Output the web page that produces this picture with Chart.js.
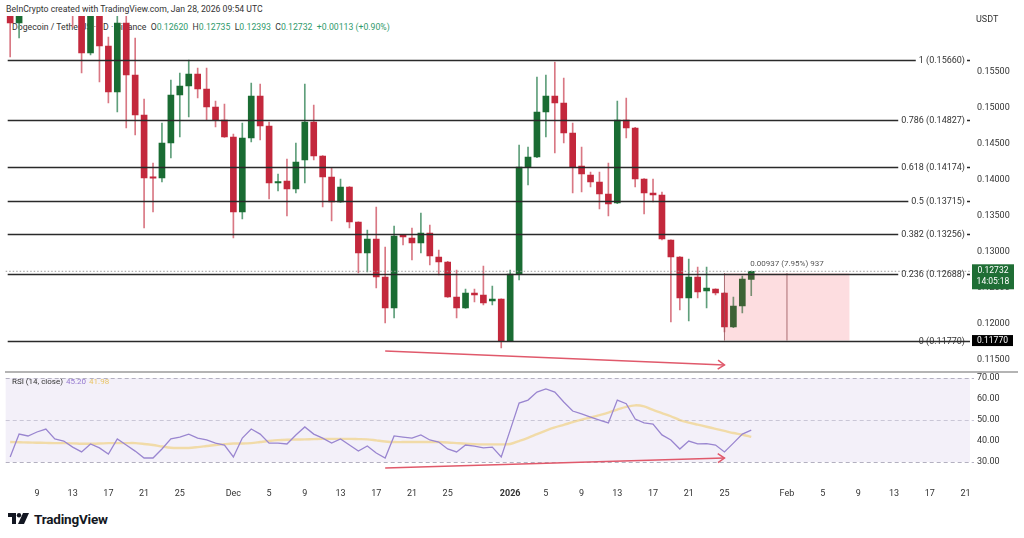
<!DOCTYPE html>
<html lang="en">
  <head>
    <meta charset="UTF-8" />
    <title>Dogecoin / TetherUS 1D</title>
    <script src="https://cdn.jsdelivr.net/npm/chart.js"></script>
    <style>
      body {
        margin: 0;
        width: 1024px;
        height: 538px;
        overflow: hidden;
        background: #fff;
        font-family: Roboto, "Liberation Sans", Arial, sans-serif;
        color: #333;
        position: relative;
      }
      .pane {
        position: absolute;
        left: 0;
        width: 1024px;
      }
      #pricePane { top: 0; height: 372px; z-index: 2; }
      #rsiPane { top: 373px; height: 130px; z-index: 2; }
      #header1 { position: absolute; left: 6px; top: 4px; font-size: 8.7px; z-index: 1; }
      #header2 { position: absolute; left: 12px; top: 22px; font-size: 8.7px; z-index: 1; white-space: pre; }
      #header2 .g { color: #2f9a6c; }
      #rsiTitle { position: absolute; left: 12px; top: 377px; font-size: 8px; z-index: 3; }
      #rsiTitle .v1 { color: #9478cf; margin-left: 3px; }
      #rsiTitle .v2 { color: #e9c466; margin-left: 3px; }
      #divider { position: absolute; left: 5px; top: 371px; width: 1013px; height: 2px; background: #b4b4b4; z-index: 3; }
      #logo { position: absolute; left: 8px; top: 511px; display: flex; align-items: center; }
      #logo span { font-weight: bold; font-size: 13.5px; color: #131722; margin-left: 4px; letter-spacing: -0.2px; }
    </style>
  </head>
  <body>
    <div id="header1">BeInCrypto created with TradingView.com, Jan 28, 2026 09:54 UTC</div>
    <div id="header2">Dogecoin / TetherUS · 1D · Binance  O<span class="g">0.12620</span>  H<span class="g">0.12735</span>  L<span class="g">0.12393</span>  C<span class="g">0.12732</span>  <span class="g">+0.00113 (+0.90%)</span></div>
    <div class="pane" id="pricePane"><canvas id="priceChart"></canvas></div>
    <div id="divider"></div>
    <div class="pane" id="rsiPane"><canvas id="rsiChart"></canvas></div>
    <div id="rsiTitle">RSI (14, close)<span class="v1">45.20</span><span class="v2">41.98</span></div>
    <div id="logo">
      <svg width="22" height="12" viewBox="0 0 22 12">
        <path d="M0 0 H8 V11 H4 V4 H0 Z" fill="#131722" />
        <circle cx="11" cy="2.2" r="2.2" fill="#131722" />
        <path d="M15 0 H21 L16 11 H10 Z" fill="#131722" />
      </svg>
      <span>TradingView</span>
    </div>

    <script>
      const days = [
        "Nov 6", "Nov 7", "Nov 8", "Nov 9", "Nov 10", "Nov 11", "Nov 12", "Nov 13", "Nov 14", "Nov 15",
        "Nov 16", "Nov 17", "Nov 18", "Nov 19", "Nov 20", "Nov 21", "Nov 22", "Nov 23", "Nov 24", "Nov 25",
        "Nov 26", "Nov 27", "Nov 28", "Nov 29", "Nov 30",
        "Dec 1", "Dec 2", "Dec 3", "Dec 4", "Dec 5", "Dec 6", "Dec 7", "Dec 8", "Dec 9", "Dec 10",
        "Dec 11", "Dec 12", "Dec 13", "Dec 14", "Dec 15", "Dec 16", "Dec 17", "Dec 18", "Dec 19", "Dec 20",
        "Dec 21", "Dec 22", "Dec 23", "Dec 24", "Dec 25", "Dec 26", "Dec 27", "Dec 28", "Dec 29", "Dec 30", "Dec 31",
        "Jan 1", "Jan 2", "Jan 3", "Jan 4", "Jan 5", "Jan 6", "Jan 7", "Jan 8", "Jan 9", "Jan 10",
        "Jan 11", "Jan 12", "Jan 13", "Jan 14", "Jan 15", "Jan 16", "Jan 17", "Jan 18", "Jan 19", "Jan 20",
        "Jan 21", "Jan 22", "Jan 23", "Jan 24", "Jan 25", "Jan 26", "Jan 27", "Jan 28", "Jan 29", "Jan 30", "Jan 31",
        "Feb 1", "Feb 2", "Feb 3", "Feb 4", "Feb 5", "Feb 6", "Feb 7", "Feb 8", "Feb 9", "Feb 10",
        "Feb 11", "Feb 12", "Feb 13", "Feb 14", "Feb 15", "Feb 16", "Feb 17", "Feb 18", "Feb 19", "Feb 20", "Feb 21",
      ];

      // daily candles Nov 6 .. Jan 28 (Nov 8-12 sit above the visible range)
      const opens = [
        0.166, 0.16181, null, null, null, null, null, 0.172, 0.168, 0.15764,
        0.165, 0.15861, 0.15222, 0.16181, 0.15458, 0.14903, 0.14035, 0.14028, 0.14514, 0.15181,
        0.15306, 0.15472, 0.15264, 0.15014, 0.14833,
        0.14597, 0.13556, 0.14583, 0.15167, 0.1475, 0.13958, 0.13986, 0.13875, 0.14278, 0.14806,
        0.14333, 0.14042, 0.13694, 0.13903, 0.13417, 0.12986, 0.13181, 0.12653, 0.12222, 0.13236,
        0.13194, 0.13125, 0.13264, 0.12931, 0.12861, 0.12375, 0.12222, 0.12431, 0.12403, 0.12319, 0.12347,
        0.11764, 0.12694, 0.14181, 0.14319, 0.14944, 0.15167, 0.15069, 0.14653, 0.14194, 0.14069,
        0.13972, 0.13806, 0.13681, 0.14833, 0.14722, 0.14014, 0.13819, 0.13792, 0.13167, 0.12931,
        0.12361, 0.12653, 0.12458, 0.12486, 0.12431, 0.11958, 0.1225, 0.1262,
      ];
      const highs = [
        0.168, 0.169, null, null, null, null, null, 0.175, 0.17, 0.167,
        0.166, 0.15986, 0.1635, 0.1635, 0.15972, 0.15125, 0.14236, 0.14792, 0.15389, 0.15486,
        0.15667, 0.15556, 0.15556, 0.15097, 0.15056,
        0.14639, 0.14792, 0.15347, 0.15333, 0.14806, 0.14083, 0.14292, 0.14514, 0.15333, 0.15042,
        0.1434, 0.14167, 0.14014, 0.1391, 0.1342, 0.13306, 0.13625, 0.13069, 0.13361, 0.1324,
        0.13333, 0.13542, 0.13375, 0.13028, 0.1287, 0.1275, 0.12486, 0.12486, 0.12806, 0.12528, 0.1235,
        0.1275, 0.14486, 0.14458, 0.15431, 0.15458, 0.15639, 0.15417, 0.14792, 0.14458, 0.14111,
        0.14111, 0.14236, 0.15097, 0.15139, 0.1473, 0.1402, 0.14014, 0.13833, 0.1317, 0.12935,
        0.12903, 0.12792, 0.12792, 0.1249, 0.12435, 0.12375, 0.12667, 0.12735,
      ];
      const lows = [
        0.15708, 0.15972, null, null, null, null, null, 0.16125, 0.15486, 0.15736,
        0.15361, 0.15069, 0.14944, 0.14722, 0.14625, 0.13333, 0.13556, 0.13972, 0.14306, 0.14597,
        0.14875, 0.15139, 0.14833, 0.14736, 0.1459,
        0.13194, 0.13458, 0.14528, 0.14556, 0.13736, 0.13847, 0.135, 0.13819, 0.13958, 0.14278,
        0.13625, 0.13431, 0.1369, 0.13333, 0.12708, 0.12722, 0.125, 0.12014, 0.12083, 0.13097,
        0.12889, 0.12986, 0.12819, 0.12681, 0.1237, 0.12083, 0.12215, 0.12306, 0.12264, 0.12264, 0.11667,
        0.1176, 0.12611, 0.13931, 0.1431, 0.14597, 0.14375, 0.14514, 0.13819, 0.13833, 0.13903,
        0.13597, 0.135, 0.1367, 0.14583, 0.13903, 0.13528, 0.13694, 0.13167, 0.12028, 0.12194,
        0.12042, 0.12361, 0.12222, 0.12403, 0.11889, 0.1195, 0.12153, 0.12393,
      ];
      const closes = [
        0.16181, 0.166, null, null, null, null, null, 0.168, 0.15764, 0.165,
        0.15861, 0.15222, 0.16181, 0.15458, 0.14903, 0.14028, 0.14025, 0.14514, 0.15181, 0.15306,
        0.15472, 0.15264, 0.15014, 0.14833, 0.14597,
        0.13556, 0.14583, 0.15167, 0.1475, 0.13958, 0.13972, 0.13875, 0.1425, 0.14806, 0.14333,
        0.14042, 0.13694, 0.13903, 0.13417, 0.12986, 0.13181, 0.12653, 0.12222, 0.13222, 0.13208,
        0.13125, 0.13264, 0.12944, 0.12861, 0.12375, 0.12222, 0.12431, 0.12403, 0.12292, 0.12347, 0.11764,
        0.12694, 0.14181, 0.14319, 0.14944, 0.15167, 0.15069, 0.14653, 0.14181, 0.14083, 0.13972,
        0.13806, 0.13667, 0.14833, 0.14722, 0.14014, 0.13819, 0.13792, 0.13181, 0.12931, 0.12361,
        0.12653, 0.12444, 0.125, 0.12431, 0.11958, 0.1225, 0.12625, 0.12732,
      ];

      const rsiValues = [
        32.4, 43.3, 42.4, 44.3, 45.7, 41.0, 40.0, 37.1, 34.8, 38.6,
        36.7, 33.8, 41.0, 38.1, 35.2, 31.9, 31.9, 36.2, 41.0, 41.9,
        43.3, 41.4, 40.5, 39.0, 38.1,
        32.4, 41.4, 45.7, 43.3, 39.0, 39.0, 38.6, 42.9, 46.7, 43.3,
        41.4, 39.0, 41.0, 38.1, 35.2, 37.6, 34.3, 31.9, 42.4, 41.9,
        41.4, 42.9, 40.5, 39.5, 36.2, 34.8, 38.1, 37.6, 36.7, 37.1, 32.4,
        45.2, 58.1, 59.5, 63.3, 64.8, 63.3, 58.6, 54.3, 52.9, 51.4,
        50.0, 48.6, 59.5, 57.8, 50.5, 48.6, 48.1, 42.9, 40.5, 36.2,
        40.0, 38.6, 38.8, 38.1, 34.8, 39.0, 43.3, 45.2,
      ];
      const rsiAverage = [
        39.5, 39.4, 39.3, 39.2, 39.1, 39.0, 39.0, 38.9, 38.7, 38.7,
        38.8, 39.0, 39.0, 39.0, 39.0, 38.6, 38.1, 37.4, 36.8, 36.7,
        36.7, 37.1, 37.6, 38.1, 38.5,
        38.8, 38.8, 39.0, 39.5, 40.0, 40.4, 40.6, 40.7, 40.8, 40.9,
        41.0, 41.0, 41.0, 41.0, 40.9, 40.8, 40.3, 39.8, 39.5, 39.5,
        39.5, 39.5, 39.5, 39.5, 39.3, 39.0, 38.7, 38.5, 38.4, 38.4, 38.4,
        38.6, 40.0, 41.5, 43.3, 45.0, 46.5, 47.7, 49.0, 50.2, 51.2,
        52.3, 53.5, 55.0, 56.3, 57.0, 56.5, 54.8, 53.3, 51.8, 50.0,
        48.8, 47.8, 46.8, 45.8, 44.8, 43.8, 43.0, 42.0,
      ];

      const priceTicks = [0.115, 0.12, 0.125, 0.13, 0.135, 0.14, 0.145, 0.15, 0.155];
      const rsiTicks = [30, 40, 50, 60, 70];
      const tickDays = [
        "Nov 9", "Nov 13", "Nov 17", "Nov 21", "Nov 25", "Dec 1", "Dec 5", "Dec 9", "Dec 13", "Dec 17",
        "Dec 21", "Dec 25", "Jan 1", "Jan 5", "Jan 9", "Jan 13", "Jan 17", "Jan 21", "Jan 25", "Feb 1",
        "Feb 5", "Feb 9", "Feb 13", "Feb 17", "Feb 21",
      ];
      const tickText = [
        "9", "13", "17", "21", "25", "Dec", "5", "9", "13", "17",
        "21", "25", "2026", "5", "9", "13", "17", "21", "25", "Feb",
        "5", "9", "13", "17", "21",
      ];

      const fibRatios = ["1", "0.786", "0.618", "0.5", "0.382", "0.236", "0"];
      const fibPrices = [0.1566, 0.14827, 0.14174, 0.13715, 0.13256, 0.12688, 0.1177];

      const lastPrice = 0.12732;
      const lastTime = "14:05:18";
      const measureFrom = "Jan 25", measureMid = "Feb 1", measureTo = "Feb 8";
      const measureLow = 0.1177, measureHigh = 0.12707;
      const measureText = "0.00937 (7.95%) 937";
      const priceArrow = { from: "Dec 18", to: "Jan 25", start: 0.11625, end: 0.11431 };
      const rsiArrow = { from: "Dec 18", to: "Jan 25", start: 27.1, end: 31.9 };

      const FONT = "Roboto, 'Liberation Sans', Arial, sans-serif";
      const UP = "#1a6c33", DOWN = "#c3283c";
      const UP_WICK = "#5f9f7b", DOWN_WICK = "#d97884";
      const ARROW = "#e0596b";

      const isUp = (i) => closes[i] >= opens[i];
      const has = (i) => i < opens.length && opens[i] != null;

      function drawArrow(ctx, x1, y1, x2, y2) {
        ctx.beginPath();
        ctx.moveTo(x1, y1);
        ctx.lineTo(x2, y2);
        ctx.stroke();
        const ang = Math.atan2(y2 - y1, x2 - x1);
        const L = 8;
        ctx.beginPath();
        ctx.moveTo(x2 - L * Math.cos(ang - 0.6), y2 - L * Math.sin(ang - 0.6));
        ctx.lineTo(x2, y2);
        ctx.lineTo(x2 - L * Math.cos(ang + 0.6), y2 - L * Math.sin(ang + 0.6));
        ctx.stroke();
      }

      const priceOverlay = {
        id: "priceOverlay",
        afterDatasetsDraw(chart) {
          const { ctx, chartArea: a, scales } = chart;
          const x = scales.x, y = scales.y;
          ctx.save();

          // last price dotted line
          const yl = y.getPixelForValue(lastPrice);
          ctx.setLineDash([1.5, 2]);
          ctx.strokeStyle = "#9a9a9a";
          ctx.lineWidth = 1;
          ctx.beginPath();
          ctx.moveTo(a.left, yl);
          ctx.lineTo(a.right, yl);
          ctx.stroke();
          ctx.setLineDash([]);

          // measure box
          const bx1 = x.getPixelForValue(days.indexOf(measureFrom));
          const bx2 = x.getPixelForValue(days.indexOf(measureTo));
          const bxm = x.getPixelForValue(days.indexOf(measureMid));
          const by1 = y.getPixelForValue(measureHigh);
          const by2 = y.getPixelForValue(measureLow);
          ctx.fillStyle = "rgba(242, 54, 69, 0.17)";
          ctx.fillRect(bx1, by1, bx2 - bx1, by2 - by1);
          ctx.strokeStyle = "rgba(150, 80, 88, 0.8)";
          ctx.lineWidth = 1;
          ctx.beginPath();
          ctx.moveTo(bxm, by1);
          ctx.lineTo(bxm, by2);
          ctx.moveTo(bx1, by1);
          ctx.lineTo(bx1, by2);
          ctx.stroke();
          ctx.font = "8px " + FONT;
          ctx.fillStyle = "#555";
          ctx.textAlign = "center";
          ctx.textBaseline = "middle";
          ctx.fillText(measureText, bxm, by1 - 9);

          // fib levels
          ctx.font = "9px " + FONT;
          ctx.textAlign = "right";
          fibPrices.forEach((p, i) => {
            const yy = Math.round(y.getPixelForValue(p)) + 0.5;
            const label = fibRatios[i] + " (" + p.toFixed(5) + ")";
            const tx = a.right - 5;
            const w = ctx.measureText(label).width;
            ctx.fillStyle = "#333";
            ctx.fillText(label, tx, yy);
            ctx.strokeStyle = "#2a2a2a";
            ctx.lineWidth = 1.6;
            const end = fibRatios[i] === "0" ? a.right : tx - w - 3;
            ctx.beginPath();
            ctx.moveTo(a.left + 2, yy);
            ctx.lineTo(end, yy);
            ctx.moveTo(tx + 2, yy);
            ctx.lineTo(tx + 5, yy);
            ctx.stroke();
          });

          // divergence arrow
          ctx.strokeStyle = ARROW;
          ctx.lineWidth = 1.5;
          drawArrow(
            ctx,
            x.getPixelForValue(days.indexOf(priceArrow.from)), y.getPixelForValue(priceArrow.start),
            x.getPixelForValue(days.indexOf(priceArrow.to)), y.getPixelForValue(priceArrow.end)
          );

          // axis price tags
          ctx.textAlign = "center";
          ctx.font = "8.5px " + FONT;
          ctx.fillStyle = "#1f6e35";
          ctx.fillRect(a.right + 2, yl - 7, 42, 25);
          ctx.fillStyle = "#fff";
          ctx.fillText(lastPrice.toFixed(5), a.right + 23, yl);
          ctx.fillText(lastTime, a.right + 23, yl + 11);
          const y0 = y.getPixelForValue(fibPrices[6]);
          ctx.fillStyle = "#000";
          ctx.fillRect(a.right + 2, y0 - 5.5, 41, 11);
          ctx.fillStyle = "#fff";
          ctx.fillText(fibPrices[6].toFixed(5), a.right + 22.5, y0 + 0.5);

          ctx.textAlign = "left";
          ctx.font = "9px " + FONT;
          ctx.fillStyle = "#333";
          ctx.fillText("USDT", a.right + 6, 20);
          ctx.restore();
        },
      };

      const rsiOverlay = {
        id: "rsiOverlay",
        beforeDatasetsDraw(chart) {
          const { ctx, chartArea: a, scales } = chart;
          const y = scales.y;
          ctx.save();
          ctx.fillStyle = "rgba(126, 87, 194, 0.09)";
          ctx.fillRect(a.left, y.getPixelForValue(70), a.right - a.left, y.getPixelForValue(30) - y.getPixelForValue(70));
          ctx.setLineDash([4, 3]);
          ctx.lineWidth = 1;
          [70, 50, 30].forEach((v) => {
            ctx.strokeStyle = v === 50 ? "#c9c6d6" : "#b3b0c0";
            const yy = Math.round(y.getPixelForValue(v)) + 0.5;
            ctx.beginPath();
            ctx.moveTo(a.left, yy);
            ctx.lineTo(a.right + 4, yy);
            ctx.stroke();
          });
          ctx.restore();
        },
        afterDatasetsDraw(chart) {
          const { ctx, scales } = chart;
          ctx.save();
          ctx.strokeStyle = ARROW;
          ctx.lineWidth = 1.5;
          drawArrow(
            ctx,
            scales.x.getPixelForValue(days.indexOf(rsiArrow.from)), scales.y.getPixelForValue(rsiArrow.start),
            scales.x.getPixelForValue(days.indexOf(rsiArrow.to)), scales.y.getPixelForValue(rsiArrow.end)
          );
          ctx.restore();
        },
      };

      const rightAxis = (min, max, ticks, digits) => ({
        position: "right",
        min: min,
        max: max,
        afterFit: (s) => {
          s.width = 54;
          s.paddingTop = 0;
          s.paddingBottom = 0;
        },
        afterBuildTicks: (s) => { s.ticks = ticks.map((v) => ({ value: v })); },
        grid: { display: false, drawTicks: false },
        border: { display: false },
        ticks: {
          padding: 7,
          color: "#333",
          font: { size: 9, family: FONT },
          callback: (v) => Number(v).toFixed(digits),
        },
      });

      new Chart(document.getElementById("priceChart"), {
        type: "bar",
        data: {
          labels: days,
          datasets: [
            {
              label: "body",
              data: days.map((d, i) => (has(i) ? [opens[i], closes[i]] : null)),
              backgroundColor: days.map((d, i) => (has(i) && isUp(i) ? UP : DOWN)),
              barThickness: 6,
              minBarLength: 1.5,
              grouped: false,
              order: 1,
            },
            {
              label: "wick",
              data: days.map((d, i) => (has(i) ? [lows[i], highs[i]] : null)),
              backgroundColor: days.map((d, i) => (has(i) && isUp(i) ? UP_WICK : DOWN_WICK)),
              barThickness: 1,
              grouped: false,
              order: 2,
            },
          ],
        },
        options: {
          responsive: true,
          maintainAspectRatio: false,
          animation: false,
          events: [],
          layout: { padding: { left: 5.7, top: 16, right: 0, bottom: 2 } },
          plugins: { legend: { display: false }, tooltip: { enabled: false } },
          scales: {
            x: { display: false, offset: true },
            y: rightAxis(0.11361, 0.16278, priceTicks, 5),
          },
        },
        plugins: [priceOverlay],
      });

      new Chart(document.getElementById("rsiChart"), {
        type: "line",
        data: {
          labels: days,
          datasets: [
            {
              label: "RSI",
              data: rsiValues,
              borderColor: "#9a86d0",
              borderWidth: 1.3,
              pointRadius: 0,
              tension: 0,
              order: 1,
            },
            {
              label: "RSI MA",
              data: rsiAverage,
              borderColor: "rgba(240, 205, 115, 0.6)",
              borderWidth: 2.4,
              pointRadius: 0,
              tension: 0.3,
              order: 2,
            },
          ],
        },
        options: {
          responsive: true,
          maintainAspectRatio: false,
          animation: false,
          events: [],
          layout: { padding: { left: 5.7, top: 0, right: 0, bottom: 0 } },
          plugins: { legend: { display: false }, tooltip: { enabled: false } },
          scales: {
            x: {
              offset: true,
              afterFit: (s) => { s.height = 20; },
              grid: { display: false, drawTicks: false },
              border: { display: false },
              ticks: {
                autoSkip: false,
                maxRotation: 0,
                padding: 5,
                color: "#333",
                font: (c) => ({
                  size: 9,
                  family: FONT,
                  weight: c.tick && c.tick.label === "2026" ? "bold" : "normal",
                }),
                callback: (v) => {
                  const k = tickDays.indexOf(days[v]);
                  return k >= 0 ? tickText[k] : null;
                },
              },
            },
            y: rightAxis(20, 72.4, rsiTicks, 2),
          },
        },
        plugins: [rsiOverlay],
      });
    </script>
  </body>
</html>
